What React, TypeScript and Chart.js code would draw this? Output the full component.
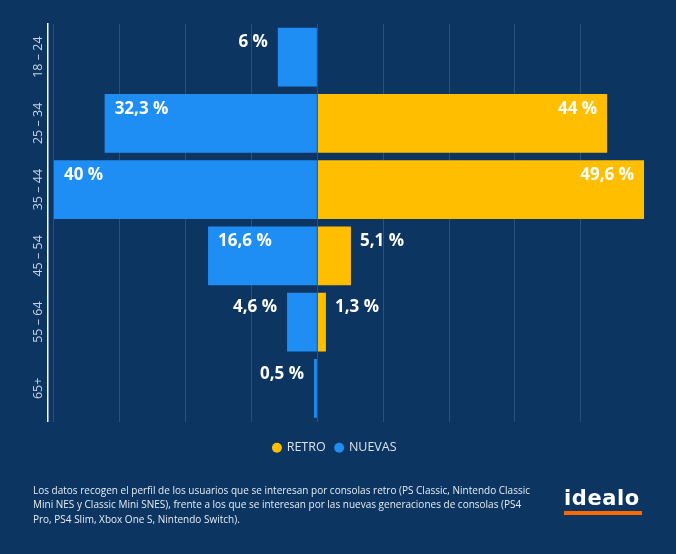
import React, { useEffect, useRef } from "react";
import { Chart, registerables } from "chart.js";

Chart.register(...registerables);

const categories = ["18 – 24", "25 – 34", "35 – 44", "45 – 54", "55 – 64", "65+"];
const retroValues: (number | null)[] = [null, 44, 49.6, 5.1, 1.3, null];
const nuevasValues: number[] = [6, 32.3, 40, 16.6, 4.6, 0.5];
const seriesNames = ["RETRO", "NUEVAS"];
const gridTicks = [-40, -30, -20, -10, 0, 10, 20, 30, 40];
const footerLines = [
  "Los datos recogen el perfil de los usuarios que se interesan por consolas retro (PS Classic, Nintendo Classic",
  "Mini NES y Classic Mini SNES), frente a los que se interesan por las nuevas generaciones de consolas (PS4",
  "Pro, PS4 Slim, Xbox One S, Nintendo Switch).",
];

const BG = "#0c3561";
const YELLOW = "#ffbf00";
const BLUE = "#1e8ef4";
const FONT = "'Open Sans', 'Noto Sans', sans-serif";

const fmt = (v: number) => v.toString().replace(".", ",") + " %";

const labelPlugin = {
  id: "barLabels",
  afterDatasetsDraw(chart: any) {
    const ctx = chart.ctx;
    ctx.save();
    ctx.font = `bold 17px ${FONT}`;
    ctx.fillStyle = "#ffffff";
    ctx.textBaseline = "middle";
    chart.data.datasets.forEach((ds: any, di: number) => {
      const meta = chart.getDatasetMeta(di);
      meta.data.forEach((el: any, i: number) => {
        const raw = ds.data[i];
        if (raw === null || raw === undefined) return;
        const val = Math.abs(raw);
        const w = Math.abs(el.x - el.base);
        const top = el.y - el.height / 2;
        const y = top + 15;
        const inside = w > 70;
        if (raw < 0) {
          ctx.textAlign = inside ? "left" : "right";
          ctx.fillText(fmt(val), inside ? el.x + 10 : el.x - 10, y);
        } else {
          ctx.textAlign = inside ? "right" : "left";
          ctx.fillText(fmt(val), inside ? el.x - 10 : el.x + 9, y);
        }
      });
    });
    ctx.restore();
  },
};

const yLabelPlugin = {
  id: "yLabels",
  afterDraw(chart: any) {
    const ctx = chart.ctx;
    const scale = chart.scales.y;
    const x = chart.chartArea.left - 10;
    ctx.save();
    ctx.font = `12.5px ${FONT}`;
    ctx.fillStyle = "#c8d2e0";
    ctx.textAlign = "center";
    ctx.textBaseline = "middle";
    categories.forEach((c, i) => {
      const y = scale.getPixelForTick(i);
      ctx.save();
      ctx.translate(x, y);
      ctx.rotate(-Math.PI / 2);
      ctx.fillText(c, 0, 0);
      ctx.restore();
    });
    ctx.restore();
  },
};

const legendShift = {
  id: "legendShift",
  afterLayout(chart: any) {
    const lg = chart.legend;
    if (lg) {
      lg.top += 10;
      lg.bottom += 10;
      lg.left -= 12;
      lg.right -= 12;
    }
  },
};

export default function App() {
  const ref = useRef<HTMLCanvasElement | null>(null);
  const footRef = useRef<HTMLDivElement | null>(null);
  const measureRef = useRef<HTMLSpanElement | null>(null);

  useEffect(() => {
    document.body.style.margin = "0";
    const foot = footRef.current;
    const m = measureRef.current;
    if (foot && m) {
      const w = m.getBoundingClientRect().width;
      if (w > 0) foot.style.transform = `scaleX(${497 / w})`;
    }
    const canvas = ref.current;
    if (!canvas) return;
    const chart = new Chart(canvas, {
      type: "bar",
      data: {
        labels: categories,
        datasets: [
          {
            label: seriesNames[0],
            data: retroValues,
            backgroundColor: YELLOW,
            borderWidth: 0,
            barPercentage: 0.89,
            categoryPercentage: 1,
          },
          {
            label: seriesNames[1],
            data: nuevasValues.map((v) => -v),
            backgroundColor: BLUE,
            borderWidth: 0,
            barPercentage: 0.89,
            categoryPercentage: 1,
          },
        ],
      },
      options: {
        indexAxis: "y",
        responsive: false,
        animation: false,
        layout: { padding: { left: 48, right: 30, top: 24, bottom: 100 } },
        scales: {
          x: {
            stacked: true,
            min: -40.9,
            max: 49.9,
            afterBuildTicks: (scale: any) => {
              scale.ticks = gridTicks.map((v) => ({ value: v }));
            },
            ticks: { display: false },
            grid: { color: "#2b5080", lineWidth: 1, drawTicks: false },
            border: { display: false },
          },
          y: {
            stacked: true,
            grid: { display: false, drawTicks: false },
            border: { display: true, color: "#ffffff", width: 1.5 },
            ticks: { display: false },
          },
        },
        plugins: {
          tooltip: { enabled: false },
          legend: {
            position: "bottom",
            labels: {
              color: "#dbe3ee",
              font: { family: FONT, size: 12.5 },
              usePointStyle: true,
              pointStyle: "circle",
              boxWidth: 7,
              boxHeight: 7,
              padding: 10,
            },
          },
        },
      },
      plugins: [labelPlugin, yLabelPlugin, legendShift],
    } as any);
    return () => chart.destroy();
  }, []);

  return (
    <div style={{ position: "relative", width: 676, height: 554, background: BG, overflow: "hidden" }}>
      <canvas ref={ref} width={676} height={554} style={{ display: "block" }} />
      <div
        ref={footRef}
        style={{
          position: "absolute",
          left: 33,
          top: 483,
          width: 800,
          color: "#e6ecf3",
          fontFamily: FONT,
          fontSize: 11,
          lineHeight: "14.3px",
          transformOrigin: "0 0",
        }}
      >
        {footerLines.map((l, i) => (
          <div key={i} style={{ display: "block", whiteSpace: "nowrap" }}>
            {i === 0 ? <span ref={measureRef}>{l}</span> : l}
          </div>
        ))}
      </div>
      <div style={{ position: "absolute", left: 564, top: 486, width: 80 }}>
        <div
          style={{
            color: "#ffffff",
            fontFamily: "'DejaVu Sans', sans-serif",
            fontWeight: 700,
            fontSize: 21,
            lineHeight: "24px",
            letterSpacing: "0.6px",
          }}
        >
          idealo
        </div>
        <div style={{ marginTop: 1, height: 4, background: "#ff6a00", width: 78 }} />
      </div>
    </div>
  );
}
